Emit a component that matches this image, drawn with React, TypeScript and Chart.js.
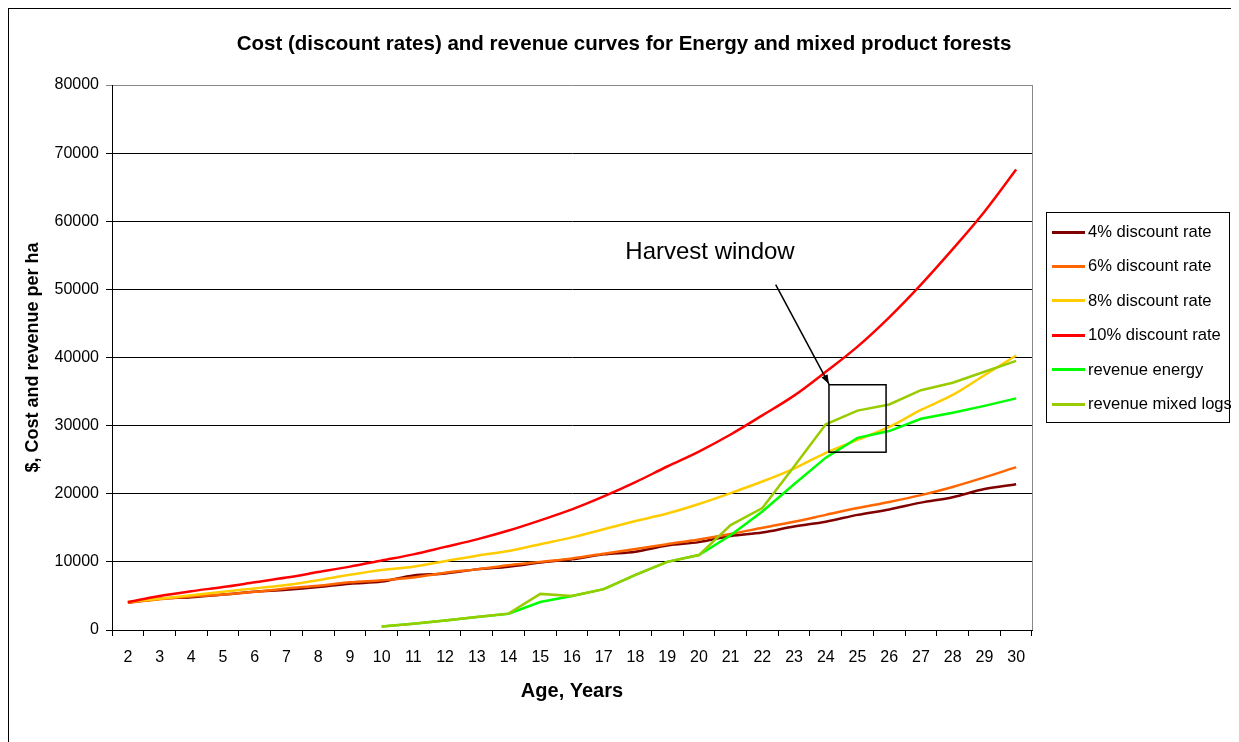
import React, { useEffect, useRef } from "react";
import { Chart, registerables } from "chart.js";

Chart.register(...registerables);

const ages = ["2","3","4","5","6","7","8","9","10","11","12","13","14","15","16","17","18","19","20","21","22","23","24","25","26","27","28","29","30"];

const rate4 = [4000,4600,4800,5200,5600,5900,6300,6800,7100,8000,8300,8900,9300,9900,10400,11100,11500,12400,12900,13800,14300,15200,15900,16900,17700,18700,19500,20700,21400];
const rate6 = [4000,4500,4900,5200,5600,6100,6500,7000,7300,7700,8400,8900,9500,10000,10500,11200,11900,12600,13300,14100,15000,15900,16900,17900,18800,19800,21000,22400,23900];
const rate8 = [4100,4600,5100,5600,6100,6600,7300,8100,8800,9300,10100,10900,11600,12600,13600,14800,16000,17100,18500,20100,21800,23700,26000,27900,29800,32300,34500,37400,40300];
const rate10 = [4100,5000,5700,6300,7000,7700,8500,9300,10200,11100,12200,13300,14600,16100,17700,19600,21700,24000,26200,28700,31500,34400,37900,41600,45900,50700,55900,61400,67600];
const revenueEnergy = [null,null,null,null,null,null,null,null,500,900,1400,1900,2400,4100,5000,6000,8100,10000,11000,13900,17400,21400,25300,28200,29200,31000,31900,32900,34000];
const revenueMixed = [null,null,null,null,null,null,null,null,500,900,1400,1900,2400,5300,5000,6000,8100,10000,11000,15400,17900,24000,30200,32200,33100,35200,36300,37900,39500];

const seriesNames = ["4% discount rate","6% discount rate","8% discount rate","10% discount rate","revenue energy","revenue mixed logs"];
const seriesColors = ["#800000","#FF6600","#FFCC00","#FF0000","#00FF00","#99CC00"];
const yTicks = [0,10000,20000,30000,40000,50000,60000,70000,80000];

const chartTitle = "Cost (discount rates) and revenue curves for Energy and mixed product forests";
const xTitle = "Age, Years";
const yTitle = "$, Cost and revenue per ha";
const annotationText = "Harvest window";

const FONT = "'Liberation Sans', Arial, sans-serif";

const harvestPlugin = {
  id: "harvest",
  beforeDatasetsDraw(chart: any) {
    const { ctx, chartArea } = chart;
    ctx.save();
    ctx.strokeStyle = "#888";
    ctx.lineWidth = 1;
    ctx.beginPath();
    ctx.moveTo(chartArea.right + 0.5, chartArea.top);
    ctx.lineTo(chartArea.right + 0.5, chartArea.bottom);
    ctx.stroke();
    ctx.restore();
  },
  afterDatasetsDraw(chart: any) {
    const { ctx } = chart;
    const xs = chart.scales.x;
    const ys = chart.scales.y;
    const px = (age: number) => xs.getPixelForValue(age - 2);
    const py = (v: number) => ys.getPixelForValue(v);
    ctx.save();
    ctx.fillStyle = "#000";
    ctx.font = `24px ${FONT}`;
    ctx.textAlign = "center";
    ctx.textBaseline = "middle";
    ctx.fillText(annotationText, px(20.35), py(55400));
    ctx.strokeStyle = "#000";
    ctx.lineWidth = 1.5;
    const x1 = px(24.1), x2 = px(25.9), y1 = py(36000), y2 = py(26100);
    ctx.strokeRect(x1, y1, x2 - x1, y2 - y1);
    const sx = px(22.42), sy = py(50700), ex = px(24.1), ey = py(36100);
    ctx.lineWidth = 1.5;
    ctx.beginPath();
    ctx.moveTo(sx, sy);
    ctx.lineTo(ex, ey);
    ctx.stroke();
    const ang = Math.atan2(ey - sy, ex - sx);
    const hl = 10, hw = 0.35;
    ctx.beginPath();
    ctx.moveTo(ex, ey);
    ctx.lineTo(ex - hl * Math.cos(ang - hw), ey - hl * Math.sin(ang - hw));
    ctx.lineTo(ex - hl * Math.cos(ang + hw), ey - hl * Math.sin(ang + hw));
    ctx.closePath();
    ctx.fill();
    ctx.restore();
  },
};

export default function App() {
  const ref = useRef<HTMLCanvasElement | null>(null);

  useEffect(() => {
    if (!ref.current) return;
    const all = [rate4, rate6, rate8, rate10, revenueEnergy, revenueMixed];
    const chart = new Chart(ref.current, {
      type: "line",
      data: {
        labels: ages,
        datasets: all.map((d, i) => ({
          label: seriesNames[i],
          data: d as any,
          borderColor: seriesColors[i],
          backgroundColor: seriesColors[i],
          borderWidth: 2.5,
          pointRadius: 0,
          fill: false,
          order: 6 - i,
          cubicInterpolationMode: i < 4 ? "monotone" : "default",
          tension: 0,
        })) as any,
      },
      options: {
        responsive: false,
        animation: false,
        events: [],
        layout: { padding: { left: 0, right: 0, top: 0, bottom: 0 } },
        plugins: {
          legend: { display: false },
          tooltip: { enabled: false },
          title: {
            display: true,
            text: chartTitle,
            color: "#000",
            font: { family: FONT, size: 20.5, weight: "bold", lineHeight: 1.2 },
            padding: { top: 23.2, bottom: 28.2 },
          },
        },
        scales: {
          x: {
            type: "category",
            offset: true,
            afterFit: (s: any) => { s.height = 110; },
            grid: { display: true, drawOnChartArea: false, drawTicks: true, tickLength: 6, offset: true, color: "#000", lineWidth: 1 },
            border: { display: true, color: "#000", width: 1 },
            ticks: { color: "#000", font: { family: FONT, size: 16 }, padding: 12, maxRotation: 0, autoSkip: false },
            title: { display: true, text: xTitle, color: "#000", font: { family: FONT, size: 20, weight: "bold", lineHeight: 1.2 }, padding: { top: 0, bottom: 37 } },
          },
          y: {
            min: 0,
            max: 80000,
            afterFit: (s: any) => { s.width = 103; },
            afterBuildTicks: (s: any) => { s.ticks = yTicks.map((v) => ({ value: v })); },
            grid: {
              display: true,
              drawTicks: true,
              tickLength: 6,
              color: (c: any) => (c.tick && c.tick.value === 80000 ? "#888" : "#000"),
              lineWidth: 1,
            },
            border: { display: true, color: "#000", width: 1 },
            ticks: { color: "#000", font: { family: FONT, size: 16 }, padding: 7, callback: (v: any) => String(v) },
            title: { display: true, text: yTitle, color: "#000", font: { family: FONT, size: 18, weight: "bold", lineHeight: 1.2 }, padding: { top: 13.2, bottom: 0 } },
          },
          legendSpace: {
            type: "linear",
            position: "right",
            display: true,
            afterFit: (s: any) => { s.width = 207; },
            grid: { display: false, drawTicks: false },
            border: { display: false },
            ticks: { display: false },
          },
        },
      },
      plugins: [harvestPlugin as any],
    });
    return () => chart.destroy();
  }, []);

  return (
    <div style={{ position: "relative", width: 1240, height: 740, border: "1px solid #000", boxSizing: "border-box", background: "#fff" }}>
      <style>{`html { overflow: hidden; }`}</style>
      <canvas ref={ref} width={1230} height={731} style={{ position: "absolute", left: 0, top: 0, width: 1230, height: 731 }} />
      <div
        style={{
          position: "absolute",
          left: 1037,
          top: 203,
          width: 184,
          height: 211,
          border: "1px solid #000",
          boxSizing: "border-box",
          background: "#fff",
          fontFamily: FONT,
          fontSize: 16.6,
          color: "#000",
        }}
      >
        {seriesNames.map((n, i) => (
          <div key={n} style={{ position: "absolute", left: 0, top: 8 + i * 34.4, height: 22, display: "flex", alignItems: "center", whiteSpace: "nowrap" }}>
            <span style={{ display: "inline-block", width: 33, height: 3, background: seriesColors[i], marginLeft: 5, marginRight: 3 }} />
            <span>{n}</span>
          </div>
        ))}
      </div>
    </div>
  );
}
